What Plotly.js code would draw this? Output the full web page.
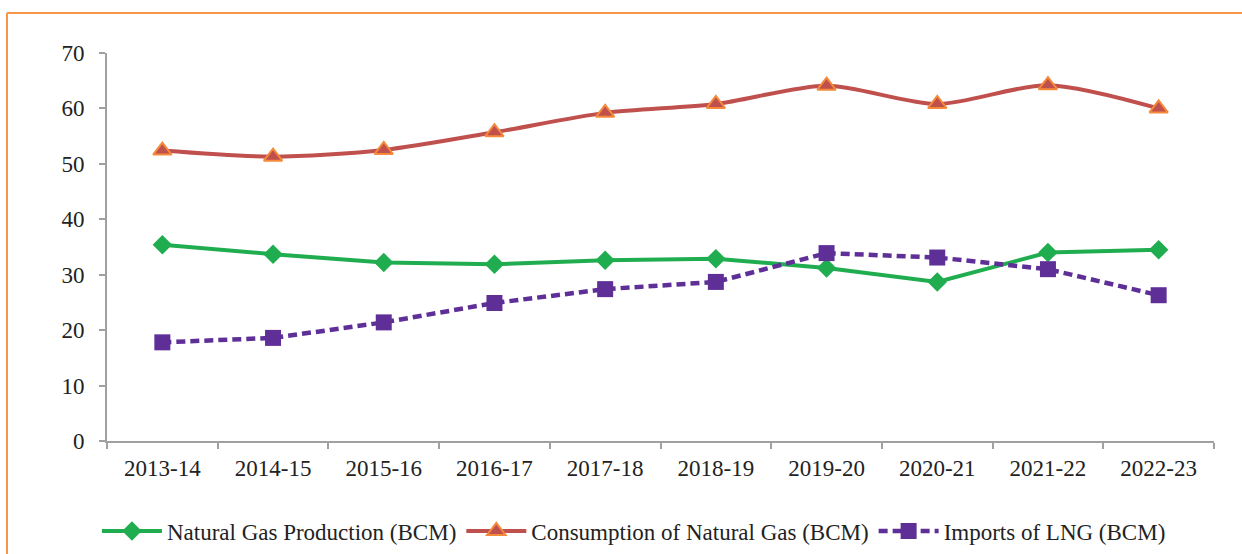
<!DOCTYPE html>
<html><head><meta charset="utf-8">
<script src="https://cdn.plot.ly/plotly-3.0.1.min.js"></script>
<style>html,body{margin:0;padding:0;background:#fff}#chart{width:1242px;height:554px}</style>
</head><body><div id="chart"></div>
<script>
const categories = ["2013-14","2014-15","2015-16","2016-17","2017-18","2018-19","2019-20","2020-21","2021-22","2022-23"];
const production = [35.4, 33.7, 32.2, 31.9, 32.6, 32.9, 31.2, 28.7, 34.0, 34.5];
const consumption = [52.4, 51.3, 52.5, 55.7, 59.2, 60.8, 64.1, 60.8, 64.2, 60.0];
const lngImports = [17.8, 18.6, 21.4, 24.9, 27.4, 28.7, 33.9, 33.1, 31.0, 26.3];
const yTicks = [0,10,20,30,40,50,60,70];

const font = {family: "Liberation Serif", size: 23, color: "#222"};

const traces = [
  {x: categories, y: production, name: "Natural Gas Production (BCM)", type: "scatter", mode: "lines+markers",
   line: {color: "#20ad50", width: 4}, marker: {symbol: "diamond", size: 15, color: "#20ad50"}},
  {x: categories, y: consumption, name: "Consumption of Natural Gas (BCM)", type: "scatter", mode: "lines+markers",
   line: {color: "#c0504d", width: 4, shape: "spline", smoothing: 0.8},
   marker: {symbol: "triangle-up", size: 16, color: "#c0504d", line: {color: "#f58a3a", width: 2}}},
  {x: categories, y: lngImports, name: "Imports of LNG (BCM)", type: "scatter", mode: "lines+markers",
   line: {color: "#5f2f98", width: 4.5, dash: "9px,5px"}, marker: {symbol: "square", size: 16, color: "#5f2f98"}}
];

const L = 107, Wp = 1107, T = 53, Hp = 388;
const bx = (7 - L) / Wp, by = (441 - 13) / Hp;
const layout = {
  width: 1242, height: 554,
  margin: {l: L, r: 1242 - L - Wp, t: T, b: 554 - T - Hp, pad: 0, autoexpand: false},
  paper_bgcolor: "#fff", plot_bgcolor: "#fff",
  font: font,
  showlegend: true,
  legend: {orientation: "h", x: 0.476, xanchor: "center", y: (441 - 531) / Hp, yanchor: "middle", font: font,
           itemwidth: 60, tracegroupgap: 0},
  xaxis: {type: "category", range: [-0.5, 9.5], showgrid: false, zeroline: false,
          showline: true, linecolor: "#a0a0a0", linewidth: 2,
          ticks: "outside", tickson: "boundaries", ticklen: 6, tickcolor: "#a0a0a0", tickwidth: 2,
          ticklabelstandoff: 5, tickfont: font, fixedrange: true},
  yaxis: {range: [0, 70], tickvals: yTicks, showgrid: false, zeroline: false,
          showline: true, linecolor: "#a0a0a0", linewidth: 2,
          ticks: "outside", ticklen: 6, tickcolor: "#a0a0a0", tickwidth: 2,
          ticklabelstandoff: 10, tickfont: font, fixedrange: true},
  shapes: [
    {type: "line", xref: "paper", yref: "paper", x0: bx, x1: bx, y0: by, y1: -0.4, line: {color: "#f79646", width: 2}},
    {type: "line", xref: "paper", yref: "paper", x0: bx, x1: 1.1, y0: by, y1: by, line: {color: "#f79646", width: 2}}
  ]
};
Plotly.newPlot("chart", traces, layout, {displayModeBar: false, staticPlot: true});
</script></body></html>
